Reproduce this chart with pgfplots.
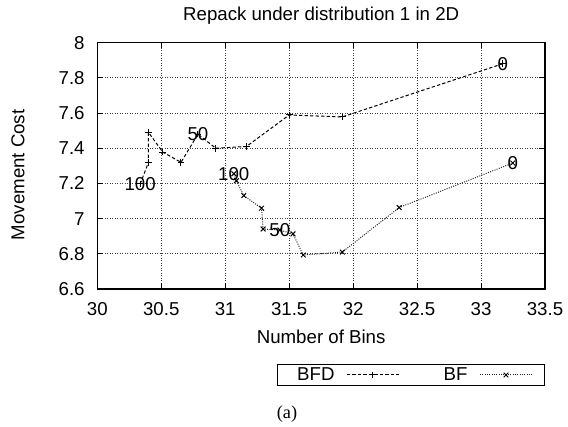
\documentclass[border=0pt]{standalone}
\usepackage{fontspec}
\setmainfont{Liberation Sans}
\newfontfamily\captionfont{Liberation Serif}
\usepackage{pgfplots}
\pgfplotsset{compat=1.18}

% BFD and BF: cost against bin count, sampled every 10 iterations (0..100)
\begin{document}
\fontsize{11.2}{13}\selectfont
\begin{tikzpicture}
\begin{axis}[
  name=main,
  scale only axis,
  width=268.6pt, height=147.8pt,
  xmin=30, xmax=33.5, ymin=6.6, ymax=8,
  xtick={30,30.5,31,31.5,32,32.5,33,33.5},
  ytick={6.6,6.8,7,7.2,7.4,7.6,7.8,8},
  /pgf/number format/assume math mode=true,
  tick align=inside, tick pos=both,
  major tick length=3.4pt,
  every tick/.style={black, line width=0.6pt},
  axis line style={black, line width=0.7pt},
  grid=major,
  major grid style={black!75, line width=0.5pt, dash pattern=on 0.6pt off 0.9pt},
  yticklabel style={xshift=-3.7pt},
  xticklabel style={yshift=-3.9pt},
  xlabel={Number of Bins},
  xlabel style={at={(0.5,-0.22057)}, anchor=base},
  ylabel={Movement Cost},
  ylabel style={at={(-0.16307,0.46346)}, anchor=base},
  legend plot pos=right,
  legend columns=2,
  legend image code/.code={\draw[mark repeat=2, mark phase=2, #1] plot coordinates {(0pt,0pt) (15.6pt,0pt) (31.2pt,0pt)};},
  legend style={at={(1,-0.30447)}, anchor=north east, draw=black, line width=0.6pt,
    inner xsep=7.2pt, inner ysep=1.6pt,
    nodes={inner xsep=0pt, inner ysep=0pt, text width=27pt, align=right},
    /tikz/every odd column/.append style={column sep=7.2pt},
    /tikz/every even column/.append style={column sep=13.8pt}},
  point meta=explicit symbolic,
  nodes near coords={\pgfplotspointmeta},
  every node near coord/.append style={anchor=center, font=\fontsize{11.2}{13}\selectfont, inner sep=0pt},
]
\addplot[black, line width=0.6pt, dash pattern=on 2pt off 1.3pt, mark=+, mark size=2pt,
  mark options={solid}] coordinates {
  (33.17,7.880) [0]
  (31.915,7.578) []
  (31.50,7.589) []
  (31.166,7.410) []
  (30.926,7.400) []
  (30.787,7.480) [50]
  (30.654,7.320) []
  (30.512,7.378) []
  (30.400,7.490) []
  (30.400,7.320) []
  (30.335,7.197) [100]
};
\addlegendentry{BFD}
\addplot[black!85, line width=0.6pt, dash pattern=on 0.6pt off 0.8pt, mark=x, mark size=2pt,
  mark options={solid, black}] coordinates {
  (33.248,7.316) [0]
  (32.36,7.063) []
  (31.915,6.810) []
  (31.61,6.793) []
  (31.53,6.913) []
  (31.427,6.935) [50]
  (31.296,6.941) []
  (31.284,7.059) []
  (31.145,7.131) []
  (31.087,7.215) []
  (31.067,7.255) [100]
};
\addlegendentry{BF}
\end{axis}
\node[anchor=base] at (134.3pt,161pt) {Repack under distribution 1 in 2D};
\node[anchor=base, font=\captionfont\fontsize{11}{13}\selectfont] at (113.8pt,-78pt) {(a)};
\pgfresetboundingbox
\useasboundingbox (-58.4pt,-82.8pt) rectangle (282.4pt,173.4pt);
\end{tikzpicture}
\end{document}
